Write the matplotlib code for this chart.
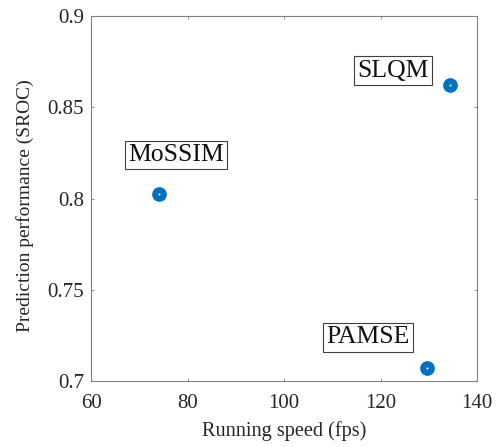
import matplotlib
matplotlib.use("Agg")
import matplotlib.pyplot as plt

methods = ["SLQM", "MoSSIM", "PAMSE"]
speed_fps = [134.4, 74.1, 129.6]
sroc = [0.862, 0.8025, 0.7071]
label_x = [122.6, 77.6, 117.4]
label_y = [0.870, 0.8238, 0.724]

xticks = [60, 80, 100, 120, 140]
yticks = [0.7, 0.75, 0.8, 0.85, 0.9]
ytick_labels = ["0.7", "0.75", "0.8", "0.85", "0.9"]

plt.rcParams['font.family'] = ['Liberation Serif', 'DejaVu Serif']

fig = plt.figure(figsize=(4.98, 4.47), dpi=100)
ax = fig.add_axes([91/498, 1 - 381/447, (477-91)/498, (381-16)/447])

blue = "#0072BD"
ax.scatter(speed_fps, sroc, s=112, color=blue, zorder=3, linewidths=0)
ax.scatter(speed_fps, sroc, s=2, color="white", zorder=4, linewidths=0)

for name, lx, ly in zip(methods, label_x, label_y):
    ax.text(lx, ly, name, fontsize=18.5, ha="center", va="center", color="#111111",
            bbox=dict(boxstyle="square,pad=0.13", facecolor="white", edgecolor="#404040", linewidth=0.8))

ax.set_xlim(60, 140)
ax.set_ylim(0.7, 0.9)
ax.set_xticks(xticks)
ax.set_xticklabels([str(t) for t in xticks])
ax.set_yticks(yticks)
ax.set_yticklabels(ytick_labels)
ax.tick_params(direction="in", top=True, right=True, labelsize=15, colors="#808080",
               labelcolor="#262626", length=2.5, width=0.6)
ax.tick_params(axis="x", pad=9)
ax.tick_params(axis="y", pad=5)
for s in ax.spines.values():
    s.set_color("#808080")
    s.set_linewidth(0.8)
ax.set_xlabel("Running speed (fps)", fontsize=14.6, color="#262626", labelpad=6)
ax.set_ylabel("Prediction performance (SROC)", fontsize=14, color="#262626")
ax.yaxis.set_label_coords(-0.148, 0.48)

fig.savefig("out.png", dpi=100)
